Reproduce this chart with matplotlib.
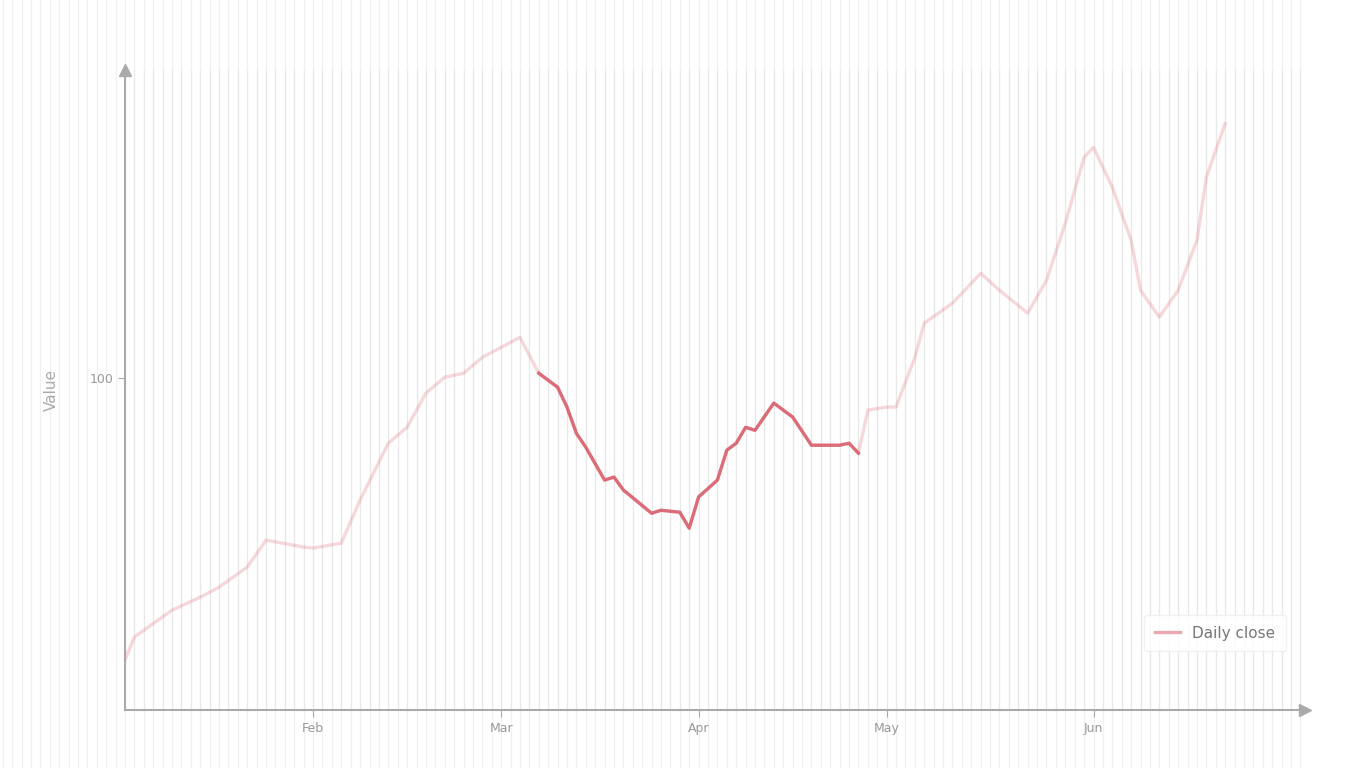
import matplotlib
matplotlib.use("Agg")
import matplotlib.pyplot as plt
from matplotlib.ticker import MultipleLocator

# ---- data ----
days = [0, 1, 5, 8, 10, 13, 15, 19, 20, 23, 25, 28, 30, 32, 34, 36, 38, 42,
        44, 46, 47, 48, 49, 51, 52, 53, 56, 57, 59, 60, 61, 63, 64, 65, 66, 67,
        69, 71, 73, 76, 77, 78, 79, 81, 82, 84, 85, 88, 90, 91, 93, 96, 98,
        100, 102, 103, 105, 107, 108, 110, 112, 114, 115, 117]
values = [15.1, 22.0, 30.1, 34.0, 37.0, 43.1, 51.2, 49.1, 48.8, 50.3, 63.3,
          80.4, 85.2, 95.5, 100.3, 101.5, 106.3, 112.3,
          101.5, 97.3, 91.3, 83.4, 79.2, 69.3, 70.2, 66.3, 59.3, 60.2, 59.6,
          54.8, 64.2, 69.3, 78.3, 80.4, 85.2, 84.3, 92.5, 88.3, 79.8, 79.8,
          80.4, 77.4, 90.4, 91.3, 91.3, 106.3, 116.6, 122.6, 128.6, 131.6,
          126.5, 119.6, 129.5, 146.7, 166.6, 169.6, 157.5, 141.6, 126.5,
          118.4, 126.5, 141.6, 160.5, 176.8]
highlight_start = 44
highlight_end = 78
xtick_pos = [20, 40, 61, 81, 103]
xtick_labels = ["Feb", "Mar", "Apr", "May", "Jun"]
ytick_pos = [100]
ytick_labels = ["100"]
series_label = "Daily close"
y_label = "Value"

# ---- figure ----
fig = plt.figure(figsize=(13.68, 7.68), dpi=100)
fig.patch.set_facecolor("white")
ax_left, ax_width = 0.0914, 0.8626
xmin, xmax = 0, 125.5

# background stripe layer sharing the same day scale as the main axes
bg = fig.add_axes([0, 0, 1, 1], zorder=-1)
per_fig = (xmax - xmin) / ax_width
bg_x0 = xmin - ax_left * per_fig
bg.set_xlim(bg_x0, bg_x0 + per_fig)
bg.set_ylim(0, 1)
for d in range(-13, 126):
    bg.axvline(d, color="#f0f0f0", lw=0.9)
bg.axis("off")

ax = fig.add_axes([ax_left, 0.0755, ax_width, 0.833])
ax.patch.set_alpha(0)

line_color = "#d2404f"
ax.plot(days, values, color=line_color, lw=2.4, alpha=0.2, solid_joinstyle="round")
hx = [d for d in days if highlight_start <= d <= highlight_end]
hy = [v for d, v in zip(days, values) if highlight_start <= d <= highlight_end]
ax.plot(hx, hy, color=line_color, lw=2.4, alpha=0.7, solid_joinstyle="round")

# legend proxy
ax.plot([], [], color=line_color, lw=2.4, alpha=0.45, label=series_label)
leg = ax.legend(loc="lower right", bbox_to_anchor=(0.99, 0.08), frameon=True,
                fontsize=11, handlelength=1.6, borderpad=0.7)
leg.get_frame().set_edgecolor("#eeeeee")
leg.get_frame().set_facecolor("white")
for t in leg.get_texts():
    t.set_color("#777777")

ax.set_xlim(xmin, xmax)
ax.set_ylim(0, 192.8)
ax.set_xticks(xtick_pos)
ax.set_xticklabels(xtick_labels, color="#999999", fontsize=9)
ax.set_yticks(ytick_pos)
ax.set_yticklabels(ytick_labels, color="#999999", fontsize=9)
ax.xaxis.set_minor_locator(MultipleLocator(1))
ax.grid(which="both", axis="x", color="#e8e8e8", lw=0.8)
ax.tick_params(axis="both", colors="#aaaaaa", length=5, labelcolor="#999999")
ax.tick_params(which="minor", length=0)
ax.set_ylabel(y_label, color="#aaaaaa", fontsize=11, labelpad=22)

for s in ["top", "right"]:
    ax.spines[s].set_visible(False)
for s in ["left", "bottom"]:
    ax.spines[s].set_color("#aaaaaa")
    ax.spines[s].set_linewidth(1.5)
ax.plot(1, 0, ">", color="#aaaaaa", ms=8, transform=ax.transAxes, clip_on=False)
ax.plot(0, 1, "^", color="#aaaaaa", ms=8, transform=ax.transAxes, clip_on=False)

fig.savefig("out.png", dpi=100, facecolor="white")
